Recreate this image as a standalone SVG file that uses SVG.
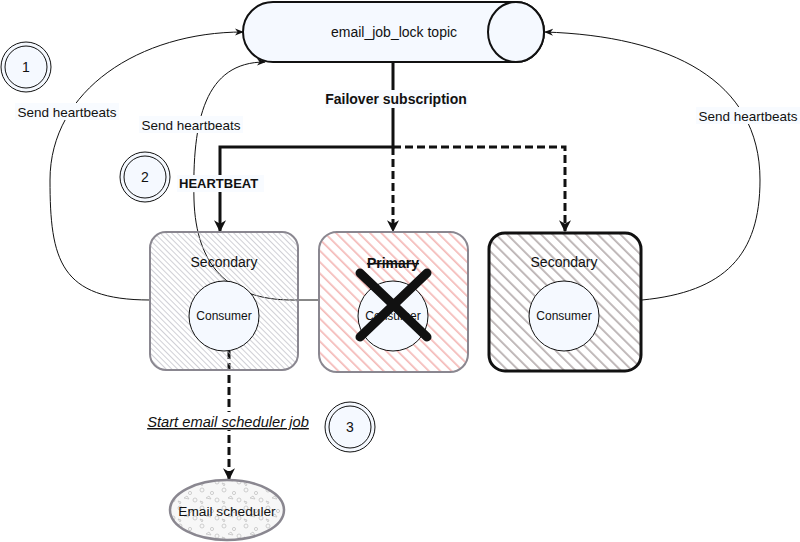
<svg xmlns="http://www.w3.org/2000/svg" width="800" height="542" viewBox="0 0 800 542">
<defs>
  <pattern id="hatchL" width="4" height="4" patternUnits="userSpaceOnUse" patternTransform="rotate(-45)">
    <line x1="0" y1="0" x2="0" y2="4" stroke="#bcbcc4" stroke-width="1.4"/>
  </pattern>
  <pattern id="hatchP" width="8" height="8" patternUnits="userSpaceOnUse" patternTransform="rotate(-45)">
    <line x1="0" y1="0" x2="0" y2="8" stroke="#f4b9b7" stroke-width="3.4"/>
  </pattern>
  <pattern id="hatchR" width="8" height="8" patternUnits="userSpaceOnUse" patternTransform="rotate(-45)">
    <line x1="0" y1="0" x2="0" y2="8" stroke="#bab2b3" stroke-width="3.6"/>
  </pattern>
  <pattern id="speck" width="22" height="18" patternUnits="userSpaceOnUse">
    <rect width="22" height="18" fill="#f7f7f7"/>
    <circle cx="4" cy="4" r="2" fill="none" stroke="#c4c4c4" stroke-width="0.8"/>
    <circle cx="14" cy="7" r="1.6" fill="none" stroke="#c4c4c4" stroke-width="0.8"/>
    <path d="M8 12 l3 -2 l2 3 z" fill="none" stroke="#c4c4c4" stroke-width="0.8"/>
    <circle cx="19" cy="14" r="2" fill="none" stroke="#c4c4c4" stroke-width="0.8"/>
    <path d="M2 15 l3 1 l-1 2 z" fill="none" stroke="#c4c4c4" stroke-width="0.8"/>
  </pattern>
  <marker id="arrowBig" viewBox="0 0 10 10" refX="9" refY="5" markerWidth="4" markerHeight="4" markerUnits="strokeWidth" orient="auto">
    <path d="M0 0 L10 5 L0 10 L3 5 Z" fill="#111"/>
  </marker>
  <marker id="arrowSmall" viewBox="0 0 10 10" refX="9" refY="5" markerWidth="9" markerHeight="9" markerUnits="strokeWidth" orient="auto">
    <path d="M0 1 L10 5 L0 9 L3 5 Z" fill="#111"/>
  </marker>
  <style>
    text { font-family: "Liberation Sans", Arial, sans-serif; fill: #111; }
    .lbl { font-size: 13.5px; }
    .bold { font-weight: bold; }
    .num { font-size: 14px; text-anchor: middle; }
    .thin { fill: none; stroke: #111; stroke-width: 1; }
    .thick { fill: none; stroke: #111; stroke-width: 3; }
    .dash { fill: none; stroke: #111; stroke-width: 3; stroke-dasharray: 8 4; }
    .bg { fill: #f8fbff; }
    .nc { fill: #f5f9ff; stroke: #111; stroke-width: 1; }
  </style>
</defs>
<rect width="800" height="542" fill="#ffffff"/>

<g id="connectors">
  <path class="thin" d="M150 300 C 60 300, 50 260, 50 180 C 50 90, 140 32, 243 32" marker-end="url(#arrowSmall)"/>
  <path class="thin" d="M318 300 L 292 300 C 228 300, 196 265, 194 200 C 192 120, 205 62, 265 62" marker-end="url(#arrowSmall)"/>
  <path class="thin" d="M642 300 C 725 292, 760 255, 760 180 C 760 80, 670 36, 545 32" marker-end="url(#arrowSmall)"/>
  <path class="thick" d="M393 62 L 393 147 L 220 147 L 220 231" marker-end="url(#arrowBig)"/>
  <path class="dash" d="M393 147 L 393 231" marker-end="url(#arrowBig)"/>
  <path class="dash" d="M393 147 L 565 147 L 565 231" marker-end="url(#arrowBig)"/>
  <path class="dash" d="M229 351 L 229 479" marker-end="url(#arrowBig)"/>
  <rect class="bg" x="15" y="103" width="104" height="17"/>
  <text class="lbl" x="67" y="117" text-anchor="middle">Send heartbeats</text>
  <rect class="bg" x="139" y="116" width="104" height="17"/>
  <text class="lbl" x="191" y="130" text-anchor="middle">Send heartbeats</text>
  <rect class="bg" x="696" y="107" width="104" height="17"/>
  <text class="lbl" x="748" y="121" text-anchor="middle">Send heartbeats</text>
  <rect class="bg" x="325" y="90" width="143" height="18"/>
  <text class="bold" x="396" y="104" font-size="14" text-anchor="middle">Failover subscription</text>
  <rect class="bg" x="177" y="175" width="87" height="17"/>
  <text class="bold" x="179" y="188" font-size="13">HEARTBEAT</text>
  <rect fill="#ffffff" x="144" y="412" width="170" height="18"/>
  <text x="228" y="427" font-size="14.7" font-style="italic" text-decoration="underline" text-anchor="middle">Start email scheduler job</text>
</g>

<g id="topic">
  <path d="M273 2 L 516 2 A 28 30 0 0 1 516 62 L 273 62 A 30 30 0 0 1 273 2 Z" fill="#f5f9ff" stroke="#111" stroke-width="2"/>
  <ellipse cx="516" cy="32" rx="28" ry="30" fill="#f5f9ff" stroke="#111" stroke-width="2"/>
  <text x="394" y="37" font-size="14" text-anchor="middle">email_job_lock topic</text>
</g>

<g id="secondary-left">
  <rect x="150" y="232" width="148" height="138" rx="16" fill="url(#hatchL)" stroke="#8a8790" stroke-width="2"/>
  <text x="224" y="267" font-size="14" text-anchor="middle">Secondary</text>
  <circle cx="224" cy="316" r="35" fill="#f5f9ff" stroke="#111" stroke-width="1"/>
  <text x="224" y="320" font-size="12" text-anchor="middle">Consumer</text>
</g>

<g id="primary">
  <rect x="319" y="232" width="149" height="140" rx="18" fill="url(#hatchP)" stroke="#8a8790" stroke-width="2"/>
  <text class="bold" x="393" y="268" font-size="14" text-anchor="middle" text-decoration="line-through">Primary</text>
  <circle cx="393" cy="316" r="35" fill="#f5f9ff" stroke="#111" stroke-width="1"/>
  <text x="393" y="320" font-size="12" text-anchor="middle">Consumer</text>
  <path d="M360 273 L 427 337 M427 273 L 360 337" stroke="#111" stroke-width="9" stroke-linecap="round"/>
</g>

<g id="secondary-right">
  <rect x="489" y="233" width="152" height="138" rx="16" fill="url(#hatchR)" stroke="#111" stroke-width="3"/>
  <text x="564" y="267" font-size="14" text-anchor="middle">Secondary</text>
  <circle cx="564" cy="316" r="35" fill="#f5f9ff" stroke="#111" stroke-width="1"/>
  <text x="564" y="320" font-size="12" text-anchor="middle">Consumer</text>
</g>

<g id="email-scheduler">
  <ellipse cx="227" cy="510" rx="57" ry="30" fill="url(#speck)" stroke="#8a8790" stroke-width="2.5"/>
  <text x="227" y="516" font-size="13.7" text-anchor="middle">Email scheduler</text>
</g>

<g id="step1">
  <circle cx="26" cy="67" r="25" class="nc"/>
  <circle cx="26" cy="67" r="21" class="nc"/>
  <text class="num" x="26" y="72">1</text>
</g>
<g id="step2">
  <circle cx="145" cy="177" r="25" class="nc"/>
  <circle cx="145" cy="177" r="21" class="nc"/>
  <text class="num" x="145" y="182">2</text>
</g>
<g id="step3">
  <circle cx="350" cy="427" r="25" class="nc"/>
  <circle cx="350" cy="427" r="21" class="nc"/>
  <text class="num" x="350" y="432">3</text>
</g>
</svg>
